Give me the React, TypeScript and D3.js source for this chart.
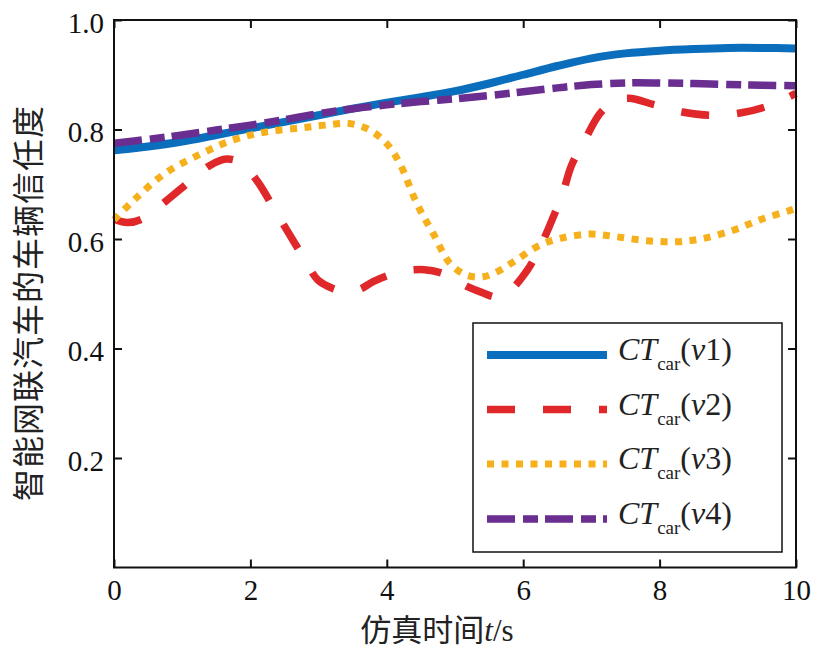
import React, { useEffect, useRef } from "react";
import * as d3 from "d3";

// ---- data ----
const blueT = [0, 0.5, 1, 1.5, 2, 2.5, 3, 3.5, 4, 4.5, 5, 5.5, 6, 6.5, 7, 7.5, 8, 8.5, 9, 9.5, 10];
const blueV = [0.762, 0.769, 0.778, 0.79, 0.802, 0.814, 0.826, 0.838, 0.849, 0.859, 0.87, 0.884, 0.9, 0.916, 0.93, 0.939, 0.944, 0.947, 0.949, 0.949, 0.948];

const redT = [0, 0.2, 0.42, 0.75, 1.09, 1.4, 1.65, 1.88, 2.11, 2.33, 2.53, 2.77, 2.99, 3.2, 3.39, 3.6, 3.8, 4.19, 4.55, 4.8, 4.97, 5.2, 5.4, 5.61, 5.8, 6.06, 6.25, 6.44, 6.58, 6.71, 6.9, 7.13, 7.35, 7.55, 7.93, 8.33, 8.77, 9.18, 9.59, 10];
const redV = [0.636, 0.63, 0.637, 0.668, 0.703, 0.734, 0.746, 0.738, 0.704, 0.659, 0.617, 0.568, 0.525, 0.51, 0.504, 0.508, 0.522, 0.54, 0.544, 0.538, 0.528, 0.512, 0.502, 0.494, 0.505, 0.543, 0.586, 0.64, 0.684, 0.735, 0.78, 0.83, 0.852, 0.857, 0.845, 0.832, 0.826, 0.83, 0.843, 0.866];

const yellowT = [0, 0.3, 0.75, 1.25, 1.75, 2.25, 2.75, 3.1, 3.45, 3.75, 4.0, 4.19, 4.44, 4.68, 4.93, 5.17, 5.41, 5.66, 5.9, 6.25, 6.54, 6.98, 7.37, 7.81, 8.25, 8.64, 9.08, 9.47, 9.88, 10];
const yellowV = [0.635, 0.672, 0.72, 0.754, 0.781, 0.796, 0.803, 0.808, 0.811, 0.799, 0.774, 0.738, 0.665, 0.61, 0.555, 0.534, 0.531, 0.543, 0.562, 0.589, 0.601, 0.609, 0.604, 0.597, 0.595, 0.601, 0.616, 0.635, 0.651, 0.656];

const purpleT = [0, 0.5, 1, 1.5, 2, 2.5, 3, 3.5, 4, 4.5, 5, 5.5, 6, 6.5, 7, 7.5, 8, 8.5, 9, 9.5, 10];
const purpleV = [0.775, 0.782, 0.79, 0.799, 0.808, 0.818, 0.829, 0.838, 0.845, 0.851, 0.856, 0.862, 0.869, 0.876, 0.882, 0.885, 0.885, 0.884, 0.882, 0.881, 0.88];

const xTicks = [0, 2, 4, 6, 8, 10];
const yTicks = [0.2, 0.4, 0.6, 0.8, 1.0];
const xLabelText = "仿真时间";
const yLabelText = "智能网联汽车的车辆信任度";
const legendIds = ["v1", "v2", "v3", "v4"];

const series = [
  { t: blueT, v: blueV, color: "#0A6EBD", dash: "none", width: 8 },
  { t: redT, v: redV, color: "#E0282A", dash: "28,28", width: 7.5 },
  { t: yellowT, v: yellowV, color: "#F5B01C", dash: "7,7.5", width: 7 },
  { t: purpleT, v: purpleV, color: "#6A2D90", dash: "28,8,15,7", width: 7.5 },
];

const W = 827;
const H = 653;
const M = { left: 114, top: 20, right: 796, bottom: 567.5 };
const SERIF = "Liberation Serif";
const CJK = "Noto Sans CJK SC";

export default function App() {
  const leftRef = useRef<SVGGElement>(null);
  const bottomRef = useRef<SVGGElement>(null);
  const rightRef = useRef<SVGGElement>(null);
  const topRef = useRef<SVGGElement>(null);

  const x = d3.scaleLinear().domain([0, 10]).range([M.left, M.right]);
  const y = d3.scaleLinear().domain([0, 1]).range([M.bottom, M.top]);

  useEffect(() => {
    document.body.style.margin = "0";
    const style = (g: any) => {
      g.attr("font-family", SERIF).attr("font-size", 29);
      g.select(".domain").remove();
      g.selectAll(".tick line").attr("stroke", "#111").attr("stroke-width", 2);
      g.selectAll(".tick text").attr("fill", "#111");
    };
    d3.select(leftRef.current!)
      .call(d3.axisLeft(y).tickValues(yTicks).tickSize(-8).tickPadding(10).tickFormat(d3.format(".1f")) as any)
      .call(style)
      .selectAll(".tick text")
      .attr("dy", "0.42em");
    d3.select(bottomRef.current!)
      .call(d3.axisBottom(x).tickValues(xTicks).tickSize(-8).tickPadding(12).tickFormat(d3.format("d")) as any)
      .call(style);
    d3.select(rightRef.current!)
      .call(d3.axisRight(y).tickValues(yTicks).tickSize(-8).tickFormat(() => "") as any)
      .call(style);
    d3.select(topRef.current!)
      .call(d3.axisTop(x).tickValues(xTicks).tickSize(-8).tickFormat(() => "") as any)
      .call(style);
  }, []);

  const line = d3
    .line<[number, number]>()
    .x((d) => x(d[0]))
    .y((d) => y(d[1]))
    .curve(d3.curveCatmullRom.alpha(0.5));

  const legendX0 = 487;
  const legendX1 = 607;
  const legendRows = [355, 409.5, 464, 519];

  return (
    <svg width={W} height={H} style={{ display: "block", background: "#fff" }}>
      <rect x={0} y={0} width={W} height={H} fill="#fff" />
      {series.map((s, i) => (
        <path
          key={i}
          d={line(s.t.map((t, j) => [t, s.v[j]] as [number, number])) || ""}
          fill="none"
          stroke={s.color}
          strokeWidth={s.width}
          strokeDasharray={s.dash}
          strokeLinecap="butt"
          strokeLinejoin="round"
        />
      ))}
      <rect
        x={M.left}
        y={M.top}
        width={M.right - M.left}
        height={M.bottom - M.top}
        fill="none"
        stroke="#111"
        strokeWidth={2}
      />
      <g ref={leftRef} transform={`translate(${M.left},0)`} />
      <g ref={bottomRef} transform={`translate(0,${M.bottom})`} />
      <g ref={rightRef} transform={`translate(${M.right},0)`} />
      <g ref={topRef} transform={`translate(0,${M.top})`} />

      {/* legend */}
      <rect x={473} y={323} width={309} height={229} fill="#fff" stroke="#111" strokeWidth={1.5} />
      {series.map((s, i) => (
        <g key={i}>
          <line
            x1={legendX0}
            x2={legendX1}
            y1={legendRows[i]}
            y2={legendRows[i]}
            stroke={s.color}
            strokeWidth={s.width}
            strokeDasharray={s.dash}
          />
          <text x={618} y={legendRows[i] + 5} fill="#222" fontFamily={SERIF} fontSize={32}>
            <tspan fontStyle="italic">CT</tspan>
            <tspan fontSize={19} dy={10}>car</tspan>
            <tspan dy={-10}>(</tspan>
            <tspan fontStyle="italic">{legendIds[i][0]}</tspan>
            <tspan>{legendIds[i].slice(1)})</tspan>
          </text>
        </g>
      ))}

      {/* axis labels */}
      <text x={437} y={641} textAnchor="middle" fill="#222" fontSize={31} fontFamily={SERIF}>
        <tspan fontFamily={CJK}>{xLabelText}</tspan>
        <tspan fontStyle="italic">t</tspan>
        <tspan>/s</tspan>
      </text>
      <text
        transform={`translate(40,303) rotate(-90)`}
        textAnchor="middle"
        fill="#222"
        fontFamily={CJK}
        fontSize={32}
        letterSpacing={1}
      >
        {yLabelText}
      </text>
    </svg>
  );
}
